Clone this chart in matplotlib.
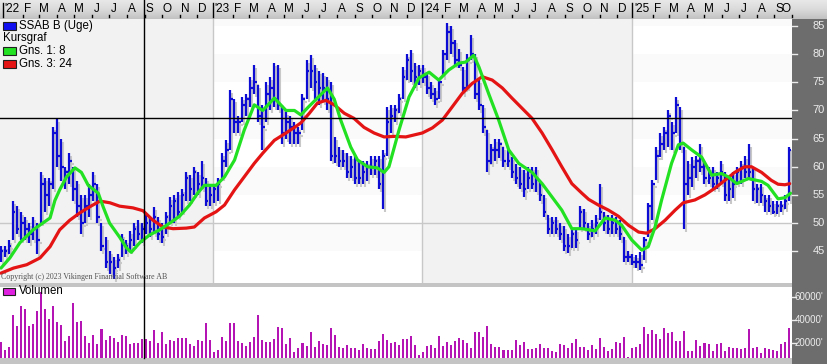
import numpy as np
import matplotlib
matplotlib.use('Agg')
import matplotlib.pyplot as plt
import matplotlib.transforms as mtransforms
from matplotlib.lines import Line2D
from matplotlib.patches import Rectangle
from matplotlib.colors import LinearSegmentedColormap
import pandas as pd

W, H, DPI = 828, 364, 100

# ---------------- data (weekly bars) ----------------
high = [46, 46, 47, 54, 53, 52, 51, 50, 51, 50,
        59, 58, 58, 67, 68.5, 65, 60, 62.5, 60, 57.5,
        55, 55, 57, 59, 57, 50, 47.5, 45, 44, 44.5,
        48, 47, 48.5, 50, 50.5, 50, 51.5, 51, 52.8, 51,
        50, 52, 54.6, 55, 55.5, 56, 59, 58.5, 60, 59,
        61, 58, 57, 57, 58, 62.5, 64.8, 73.6, 72, 69,
        72.4, 73, 76, 78, 74.6, 71, 75, 76, 78.4, 78,
        71, 69.7, 69, 68, 67, 73, 79, 79.8, 78, 77,
        76.6, 76, 75, 65.3, 63.5, 63, 62.4, 62, 62, 61,
        61, 61, 62, 62, 62, 63, 70.6, 71, 71, 73,
        77.7, 80, 80.7, 78.5, 78, 78, 76.6, 75, 74, 75.6,
        80.7, 85.5, 85, 82.6, 81, 77.7, 80, 83.4, 80, 75.4,
        71, 66.5, 64, 65, 65, 63.5, 63, 61.7, 60.5, 60,
        59.5, 60, 60, 60, 57.5, 55, 51.5, 51, 51, 50,
        49.4, 48, 49, 49, 53, 52.5, 50, 50.5, 51.5, 57,
        52, 51.5, 51.5, 51, 50.5, 47.5, 45, 44.5, 44.3, 44.8,
        47.5, 53.6, 57.6, 63.5, 66, 67, 70, 68, 72.4, 70.6,
        63.5, 61, 61.7, 62, 64, 61, 60, 60, 59, 61,
        59, 58, 59, 60, 61, 62, 64, 60, 57, 57,
        55, 55, 54, 54, 54, 55, 63.5]
low = [43, 44, 44.5, 47, 48, 47, 47, 46.5, 47, 44.5,
       50, 52, 53, 56, 60, 57.5, 56, 57, 54, 51,
       48, 50, 51, 54, 50, 45, 42, 41, 40, 42,
       44, 44.5, 45, 46, 47, 46.5, 48, 47.5, 48, 47,
       46.5, 48, 50, 50, 51, 52, 54, 54, 55, 55,
       56, 53, 53, 53.5, 54, 58, 60, 63, 66, 66,
       68, 69, 70.6, 73, 68, 63, 68, 70, 70.6, 70,
       64, 65, 64, 64, 64, 66.5, 72, 74, 72, 71,
       71.5, 70, 61, 60.6, 60, 60, 58, 58, 57, 57,
       57, 57.5, 58.5, 58.5, 56, 52.5, 62, 66, 68, 69.5,
       72, 75.4, 75, 74, 74.5, 74.8, 73, 72, 71, 72,
       76, 79, 80, 78, 77.5, 73, 74, 79, 72, 70,
       66, 59, 60.5, 61, 61.5, 60, 60, 58, 57, 56,
       54.6, 56, 56, 55.5, 54, 51, 48, 48, 48, 47,
       45, 44.7, 45.6, 45.6, 49, 49, 47, 47.5, 48, 50.5,
       48.5, 48, 48, 48, 47, 43, 43, 42.5, 42, 41.7,
       43.5, 47.5, 50.5, 57.6, 61.7, 63, 63.5, 63, 66, 63,
       49, 55, 56.4, 58, 59, 57, 57, 56, 56, 57,
       54, 54, 54.5, 57, 57, 58, 58, 54, 53.5, 53.5,
       52, 52, 51.6, 51.6, 52, 52.5, 54]
close = [45, 45, 46, 52, 49, 50, 49, 48, 49, 47,
         57, 55, 57, 66, 62, 60, 59, 61, 56, 53,
         50, 53, 55, 57, 51, 46, 43, 43, 42, 43.5,
         47, 46, 47, 49, 48, 49, 50, 49, 51, 48,
         47.5, 51, 53, 54, 52, 55, 58, 56, 59, 57,
         58, 54, 55, 56, 57, 61, 63, 72, 68, 68,
         71, 72, 74, 75, 69, 67, 73, 74, 72, 71,
         66, 68, 67, 66, 66, 72, 77, 77, 75, 74,
         74, 72, 62, 62, 61, 61, 59, 60, 58, 58,
         59, 60, 60, 61, 57, 62, 68, 69, 70, 72,
         76, 79, 77, 76, 77, 76, 74, 73, 72, 75,
         80, 84, 82, 79, 78, 74, 79, 80, 73, 71,
         67, 61, 63, 63, 64, 61, 61, 59, 58, 57,
         56, 58, 57, 58, 55, 52, 49, 50, 49, 48,
         46, 46, 48, 47, 52, 50, 48, 49, 50, 52,
         50, 49, 50, 49, 48, 44, 44, 43, 43, 42.5,
         47, 53, 57, 62, 64, 66, 69, 66, 71, 64,
         57, 58, 60, 61, 60, 58, 58, 57, 58, 59,
         55, 56, 57, 59, 60, 59, 59, 56, 56, 55,
         54, 53, 52, 53, 53, 54, 63]
volume = [21400, 14250, 16800, 44300, 34800, 52000, 49200, 34800, 36600, 47700,
          64300, 49200, 40600, 52000, 38000, 35700, 22000, 26300, 54900, 38500,
          39000, 26300, 20500, 27100, 19400, 32300, 22800, 26300, 24800, 20800,
          27100, 26300, 19400, 20500, 20500, 23700, 23500, 22000, 31400, 20500,
          29400, 19100, 22800, 22200, 24300, 24300, 24300, 19400, 17700, 22800,
          22200, 37700, 22800, 12800, 14250, 25100, 22000, 37700, 37700, 22000,
          20500, 18000, 21400, 25100, 44300, 22800, 21400, 21400, 23400, 34000,
          32900, 19400, 24800, 12800, 16300, 20500, 18000, 30000, 17100, 22000,
          19400, 18500, 32900, 27100, 17100, 16300, 18500, 15700, 15700, 14250,
          19400, 15700, 15100, 15100, 22000, 28000, 22800, 20500, 21400, 18500,
          23400, 23400, 26300,
          18500, 10000, 12800, 17700, 18500, 16300, 26300, 17700, 21400, 18500,
          22000, 24800, 22800, 20500, 16300, 29400, 29400, 25700, 34800, 19400,
          17100, 17100, 14250, 14250, 14250, 22800, 18500, 21400, 14800, 14800,
          15700, 19400, 15700, 15700, 13700, 12800, 19400, 18500, 16300, 20500,
          23700, 16600, 16600, 14250, 18500, 15100, 24300, 17100, 13700, 14800,
          20800, 20000, 25100, 8500, 15700, 16600, 19400, 34000, 28000, 31400,
          27700, 23700, 33500, 29100, 29400, 22000, 22000, 30600, 13400, 13400,
          22800, 17700, 20000, 19400, 13700, 19400, 20500, 13700, 17100, 16300,
          15700, 15100, 15700, 32000, 15700, 16600, 12000, 15700, 15100, 14250,
          13700, 19400, 21400, 32900]

# moving averages (week number, value)
ma8_week = [0, 2.2, 4.7, 8, 12.2, 13.4, 14.6, 16.3, 18.4, 20, 21.7, 24.2, 25.4, 27, 29.5, 31.2,
            32.4, 34.5, 37, 39.5, 42, 44.4, 46.9, 49, 50.6, 53.5, 55.6, 58.1, 60.5, 63, 65.1,
            68, 70.9, 73, 74.6, 76.3, 78.7, 81.2, 82.9, 84.5, 87, 88.7, 91.2, 93.6, 95.3, 96.5,
            99, 101.5, 104, 106.5, 108.9, 111.4, 113.9, 115.6, 117.6, 118.9, 121.3, 123.8,
            126.3, 128.8, 132.1, 134.6, 137.1, 139.5, 142, 144.5, 146.2, 147.8, 150.3, 152.8,
            154.4, 156.9, 159.4, 161, 162.7, 164.3, 166.8, 168.5, 169.7, 171.8, 174.3, 176.8,
            179.2, 180.9, 183, 185.9, 189.2, 190.8, 193.3, 195, 196.4]
ma8_val = [42, 43.8, 46.5, 48.8, 50.9, 54, 55.9, 58.2, 59.8, 59, 56.7, 55.3, 52.9, 50, 47.5, 45.6,
           44.8, 46.5, 47.9, 48.8, 50, 51.2, 53.2, 55.4, 56.7, 56.7, 58.2, 61.2, 66.5, 71, 70,
           72.2, 70, 70, 69.2, 70.5, 72.2, 74, 72, 68.3, 63.5, 61.2, 60, 59.8, 59, 60,
           66.5, 72.4, 75.8, 76.8, 75.4, 77.2, 78.4, 78.6, 79.8, 77.7, 73, 68.3,
           63, 60.6, 59, 57, 54.6, 52.3, 49, 49, 48.8, 48.6, 50.9, 50.5,
           49.6, 47, 45.2, 45.8, 49.3, 54, 60.6, 63.9, 64.2, 63, 61.7, 58.5,
           58.8, 58.2, 57, 57.9, 57.4, 56.7, 54.3, 54.5, 55.3]
ma24_week = [0, 3.1, 6.4, 9.7, 12.2, 14.6, 17.1, 19.6, 22.1, 24.6, 27.1, 29.5, 32.8, 35.3, 37.8,
             40.3, 42.8, 46.1, 48.1, 50.6, 53.5, 55.6, 58.1, 60.5, 63, 65.1, 68, 70.9, 73, 74.6,
             76.7, 78.7, 80.8, 82.9, 85.4, 87.8, 90.3, 92.8, 95.3, 97.8, 100.7, 104.8, 107.3,
             109.8, 112.2, 114.7, 117.2, 119.7, 122.2, 124.7, 127.1, 129.6, 132.1, 134.6, 137.1,
             139.5, 142, 144.5, 146.2, 148.6, 151.1, 153.6, 156.1, 158.6, 160.6, 162.7, 165.2,
             167.7, 169.7, 172.6, 175.1, 177.6, 180.1, 182.5, 185, 186.7, 189.2, 191.6, 193.3,
             195, 196.2]
ma24_val = [41.1, 42, 42.6, 43.8, 45.8, 48.8, 50.5, 51.8, 52.9, 53.9, 53.6, 53, 52.7, 52.2, 50.5,
            49.3, 49, 49.1, 49.3, 50.9, 52, 53.2, 55.9, 58.2, 60.6, 62.4, 64.7, 66, 67, 67.8,
            69.5, 71.3, 71.8, 71, 69.5, 68.6, 67, 66, 65.3, 65.4, 65.3, 66, 66.9,
            68.3, 70.6, 73, 74.8, 76, 75.4, 74, 72.2, 70.4, 68.6, 66, 63,
            60, 57, 55.3, 54.2, 53.2, 52.3, 51.2, 49.6, 48.4, 48.2, 49, 50.5,
            52.3, 53.6, 54.1, 55, 56.2, 57.6, 59, 60, 60, 59, 57.6, 56.9,
            56.8, 57]

price_ticks = [85, 80, 75, 70, 65, 60, 55, 50, 45]
vol_ticks = [60000, 40000, 20000]
vol_tick_labels = ["60000'", "40000'", "20000'"]
month_letters = ['J', 'F', 'M', 'A', 'M', 'J', 'J', 'A', 'S', 'O', 'N', 'D']
first_date = pd.Timestamp('2022-01-01')
last_month = pd.Timestamp('2025-10-01')
crosshair_price = 68.66
crosshair_week = 35.6

# ---------------- layout helpers ----------------
FONT = 'Liberation Sans'
fig = plt.figure(figsize=(W / DPI, H / DPI), dpi=DPI, facecolor='#c4c4c4')


def px_axes(l, t, r, b):
    a = fig.add_axes([l / W, 1 - b / H, (r - l) / W, (b - t) / H])
    a.set_xticks([]); a.set_yticks([])
    for s in a.spines.values():
        s.set_visible(False)
    return a


def wk(px):
    return (px - 1) / 4.02


def date_week(d):
    return (d - first_date).days / 7 + 0.5


N = len(close)
x = np.arange(N)

# ---------------- top month strip ----------------
sax = px_axes(0, 0, W, 19)
sax.set_xlim(wk(0), wk(W)); sax.set_ylim(0, 1)
cm = LinearSegmentedColormap.from_list('strip', ['#c2c2c2', '#dadada', '#e8e8e8'])
sax.imshow(np.linspace(0, 1, 40).reshape(-1, 1), extent=[wk(0), wk(W), 0, 1],
           aspect='auto', cmap=cm, origin='lower')
sax.set_xlim(wk(0), wk(W)); sax.set_ylim(0, 1)
for d in pd.date_range(first_date, last_month, freq='MS'):
    w0 = date_week(d)
    if d.month == 1:
        sax.plot([w0, w0], [0.1, 0.85], color='black', lw=1)
        sax.text(w0 + 0.45, 0.52, "'" + d.strftime('%y'), ha='left', va='center',
                 fontsize=8.5, family=FONT, color='black')
    else:
        sax.plot([w0 + 0.6, w0 + 0.6], [0.08, 0.22], color='black', lw=1)
        sax.text(min(w0 + 1.8, wk(786)), 0.52, month_letters[d.month - 1], ha='center',
                 va='center', fontsize=8.5, family=FONT, color='black')

# ---------------- price panel ----------------
ax = px_axes(0, 19, 792, 283)
ax.set_xlim(wk(0), wk(792)); ax.set_ylim(39.35, 86.25)
ax.set_facecolor('white')
years = [pd.Timestamp(f'{y}-01-01') for y in (2022, 2023, 2024, 2025, 2026)]
for i in range(4):
    a0, a1 = date_week(years[i]), date_week(years[i + 1])
    if i == 0:
        a0 = wk(0)
    if i % 2 == 0:
        ax.axvspan(a0, a1, color='#f2f2f2', lw=0, zorder=0)
    else:
        for b in (45, 55, 65, 75, 85):
            ax.add_patch(Rectangle((a0, b), a1 - a0, 5, color='#fafafa', lw=0, zorder=0))
for y in (2023, 2024, 2025):
    ax.axvline(date_week(pd.Timestamp(f'{y}-01-01')), color='#c8c8c8', lw=1, zorder=1)
ax.axhline(50, color='#c8c8c8', lw=1, zorder=1)

shadow = ax.transData + mtransforms.ScaledTranslation(2 / DPI, -3 / DPI, fig.dpi_scale_trans)
ax.vlines(x, low, high, color='#c8c8c8', lw=1.5, transform=shadow, zorder=2)
ax.hlines(close, x, x + 0.6, color='#c8c8c8', lw=1.5, transform=shadow, zorder=2)
ax.vlines(x, low, high, color='#0c0cd4', lw=1.6, zorder=3)
ax.hlines(close, x, x + 0.6, color='#0c0cd4', lw=1.6, zorder=3)

ax.plot(ma24_week, ma24_val, color='#e41414', lw=2.3, zorder=4, solid_capstyle='round')
ax.plot(ma8_week, ma8_val, color='#22e022', lw=2.3, zorder=5, solid_capstyle='round')
ax.axhline(crosshair_price, color='black', lw=1, zorder=6)

# ---------------- volume panel ----------------
vax = px_axes(0, 287, 792, 358)
vax.set_facecolor('white')
vax.bar(x, volume, width=0.5, color='#b414b4', lw=0)
vax.set_xlim(wk(0), wk(792)); vax.set_ylim(7380, 68330)

# ---------------- right scale panel ----------------
rax = px_axes(792, 19, W, H)
rax.set_facecolor('#6d6d6d')

pblend = mtransforms.blended_transform_factory(fig.transFigure, ax.transData)
for t in price_ticks:
    fig.text(825 / W, t, str(t), transform=pblend, ha='right', va='center',
             fontsize=8, family=FONT, color='#ececec')
    fig.add_artist(Line2D([792 / W, 797 / W], [t, t], transform=pblend, color='#ececec', lw=1))
vblend = mtransforms.blended_transform_factory(fig.transFigure, vax.transData)
for t, lab in zip(vol_ticks, vol_tick_labels):
    fig.text(795 / W, t, lab, transform=vblend, ha='left', va='center',
             fontsize=7, family=FONT, color='#ececec')
    fig.add_artist(Line2D([792 / W, 796 / W], [t, t], transform=vblend, color='#ececec', lw=1))

# vertical crosshair through all panels
cx = 1 + 4.02 * crosshair_week
fig.add_artist(Line2D([cx / W, cx / W], [1 - 358 / H, 1], transform=fig.transFigure,
                      color='black', lw=1, zorder=6))


# ---------------- legends / texts ----------------
def fig_rect(l, t, r, b, fc):
    fig.add_artist(Rectangle((l / W, 1 - b / H), (r - l) / W, (b - t) / H,
                             transform=fig.transFigure, facecolor=fc,
                             edgecolor='#202020', lw=0.8, zorder=7))


def fig_txt(px, py, s, **kw):
    fig.text(px / W, 1 - py / H, s, va='center', ha='left', zorder=8, **kw)


fig_rect(3, 22, 16.5, 29.5, '#1010f0')
fig_txt(19, 26, 'SSAB B (Uge)', fontsize=8.3, family=FONT)
fig_txt(3, 38.5, 'Kursgraf', fontsize=8.3, family=FONT)
fig_rect(3, 47.5, 16.5, 55, '#22e022')
fig_txt(19, 51.5, 'Gns. 1: 8', fontsize=8.3, family=FONT)
fig_rect(3, 60, 16.5, 67.5, '#e41414')
fig_txt(19, 64, 'Gns. 3: 24', fontsize=8.3, family=FONT)
fig_txt(1, 277, 'Copyright (c) 2023 Vikingen Financial Software AB', fontsize=5.7,
        family='Liberation Serif', color='#505050')
fig_rect(3, 287.5, 15, 294.5, '#e020e0')
fig_txt(18.5, 291, 'Volumen', fontsize=8.3, family=FONT)

fig.savefig('out.png', dpi=DPI, facecolor=fig.get_facecolor())
